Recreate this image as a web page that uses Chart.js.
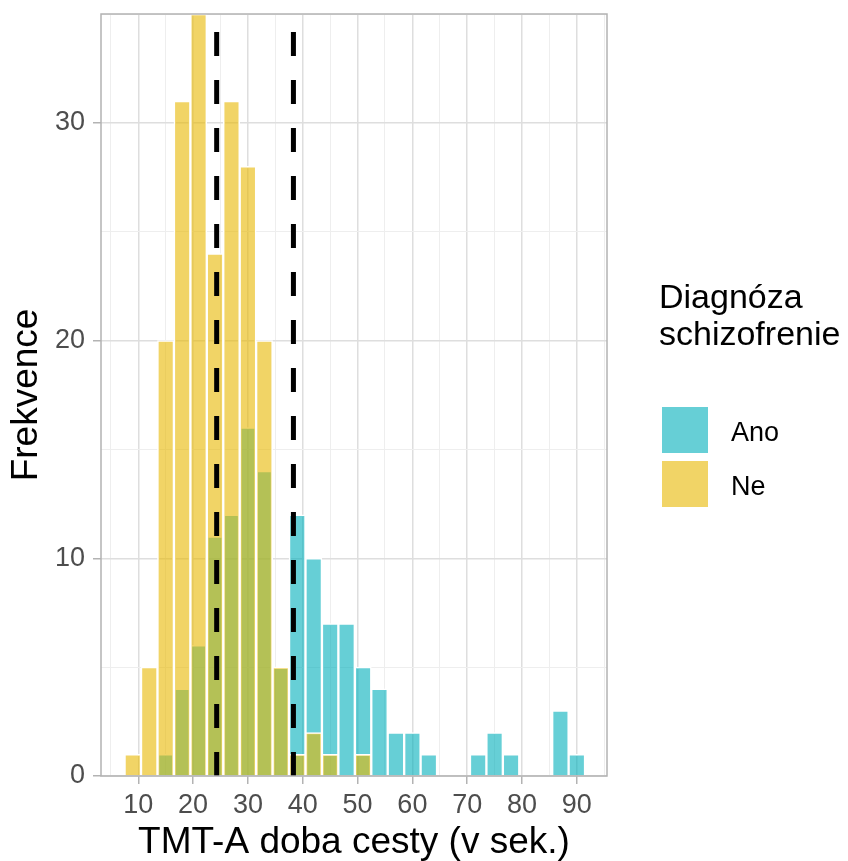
<!DOCTYPE html>
<html>
<head>
<meta charset="utf-8">
<script src="https://cdn.jsdelivr.net/npm/chart.js@4.4.1/dist/chart.umd.min.js"></script>
<style>
  html, body { margin: 0; padding: 0; background: #fff; }
  canvas { display: block; }
</style>
</head>
<body>
<canvas id="tmtChart" width="848" height="861"></canvas>
<script>
// histogram bins (mid points, 3 s wide)
const binMids = [9, 12, 15, 18, 21, 24, 27, 30, 33, 36, 39, 42, 45, 48, 51, 54, 57, 60, 63, 66, 69, 72, 75, 78, 81, 84, 87, 90];
const countsAno = [0, 0, 1, 4, 6, 11, 12, 16, 14, 5, 12, 10, 7, 7, 5, 4, 2, 2, 1, 0, 0, 1, 2, 1, 0, 0, 3, 1];
const countsNe  = [1, 5, 20, 31, 35, 24, 31, 28, 20, 5, 1, 2, 1, 0, 1, 0, 0, 0, 0, 0, 0, 0, 0, 0, 0, 0, 0, 0];
const groupMeans = [24.3, 38.3];
const groupNames = ['Ano', 'Ne'];
const legendTitle = ['Diagnóza', 'schizofrenie'];

const FONT = '"Liberation Sans", Arial, sans-serif';
const isMajor = v => v % 10 === 0;

const meanLines = {
  id: 'meanLines',
  afterDatasetsDraw(chart) {
    const {ctx, chartArea: {top, bottom}, scales: {x}} = chart;
    ctx.save();
    ctx.strokeStyle = '#000';
    ctx.lineWidth = 5;
    ctx.setLineDash([24, 24]);
    groupMeans.forEach(m => {
      const px = x.getPixelForValue(m);
      ctx.beginPath();
      ctx.moveTo(px, bottom);
      ctx.lineTo(px, top);
      ctx.stroke();
    });
    ctx.restore();
  }
};

const panelAndLegend = {
  id: 'panelAndLegend',
  afterDraw(chart) {
    const {ctx, chartArea: a} = chart;
    ctx.save();
    // panel border
    ctx.strokeStyle = '#B3B3B3';
    ctx.lineWidth = 1.5;
    ctx.strokeRect(a.left, a.top, a.right - a.left, a.bottom - a.top);

    // legend
    ctx.fillStyle = '#000';
    ctx.textBaseline = 'alphabetic';
    ctx.textAlign = 'left';
    ctx.font = '34px ' + FONT;
    legendTitle.forEach((t, i) => ctx.fillText(t, 659, 308 + i * 37));
    ctx.font = '27px ' + FONT;
    chart.data.datasets.forEach((ds, i) => {
      const y = 407 + i * 54;
      ctx.fillStyle = ds.backgroundColor;
      ctx.fillRect(662, y, 46, 46);
      ctx.fillStyle = '#000';
      ctx.fillText(ds.label, 731, y + 34);
    });
    ctx.restore();
  }
};

new Chart(document.getElementById('tmtChart'), {
  type: 'bar',
  data: {
    datasets: [
      {
        label: groupNames[0],
        data: binMids.map((m, i) => ({x: m, y: countsAno[i]})),
        backgroundColor: 'rgba(0, 175, 187, 0.6)',
        borderColor: '#fff',
        borderWidth: 1.5,
        order: 2
      },
      {
        label: groupNames[1],
        data: binMids.map((m, i) => ({x: m, y: countsNe[i]})),
        backgroundColor: 'rgba(231, 184, 0, 0.6)',
        borderColor: '#fff',
        borderWidth: 1.5,
        order: 1
      }
    ]
  },
  options: {
    responsive: false,
    animation: false,
    devicePixelRatio: 1,
    grouped: false,
    barPercentage: 1,
    categoryPercentage: 1,
    layout: {padding: {top: 14, right: 241, left: 0, bottom: 0}},
    plugins: {legend: {display: false}, tooltip: {enabled: false}},
    scales: {
      x: {
        type: 'linear',
        min: 3.2,
        max: 95.5,
        offset: false,
        afterFit: s => { s.height = 85; s.paddingLeft = 0; s.paddingRight = 0; },
        border: {display: false},
        grid: {
          offset: false,
          color: c => isMajor(c.tick.value) ? '#DEDEDE' : '#EEEEEE',
          lineWidth: c => isMajor(c.tick.value) ? 1.5 : 1,
          tickColor: c => isMajor(c.tick.value) ? '#B3B3B3' : 'rgba(0,0,0,0)',
          tickWidth: 1.5,
          tickLength: 8
        },
        ticks: {
          stepSize: 5,
          includeBounds: false,
          autoSkip: false,
          maxRotation: 0,
          padding: 5,
          color: '#4D4D4D',
          font: {family: FONT, size: 27},
          callback: v => isMajor(v) ? v : ''
        },
        title: {
          display: true,
          text: 'TMT-A doba cesty (v sek.)',
          color: '#000',
          font: {family: FONT, size: 37, lineHeight: 1},
          padding: {top: 0, bottom: 0}
        }
      },
      y: {
        min: 0,
        max: 35,
        afterFit: s => { s.width = 101; s.paddingTop = 0; s.paddingBottom = 0; },
        border: {display: false},
        grid: {
          color: c => isMajor(c.tick.value) ? '#DEDEDE' : '#EEEEEE',
          lineWidth: c => isMajor(c.tick.value) ? 1.5 : 1,
          tickColor: c => isMajor(c.tick.value) ? '#B3B3B3' : 'rgba(0,0,0,0)',
          tickWidth: 1.5,
          tickLength: 8
        },
        ticks: {
          stepSize: 5,
          padding: 8,
          color: '#4D4D4D',
          font: {family: FONT, size: 27},
          callback: v => isMajor(v) ? v : ''
        },
        title: {
          display: true,
          text: 'Frekvence',
          color: '#000',
          font: {family: FONT, size: 37, lineHeight: 1.2},
          padding: {top: 5, bottom: 0}
        }
      }
    }
  },
  plugins: [meanLines, panelAndLegend]
});
</script>
</body>
</html>
